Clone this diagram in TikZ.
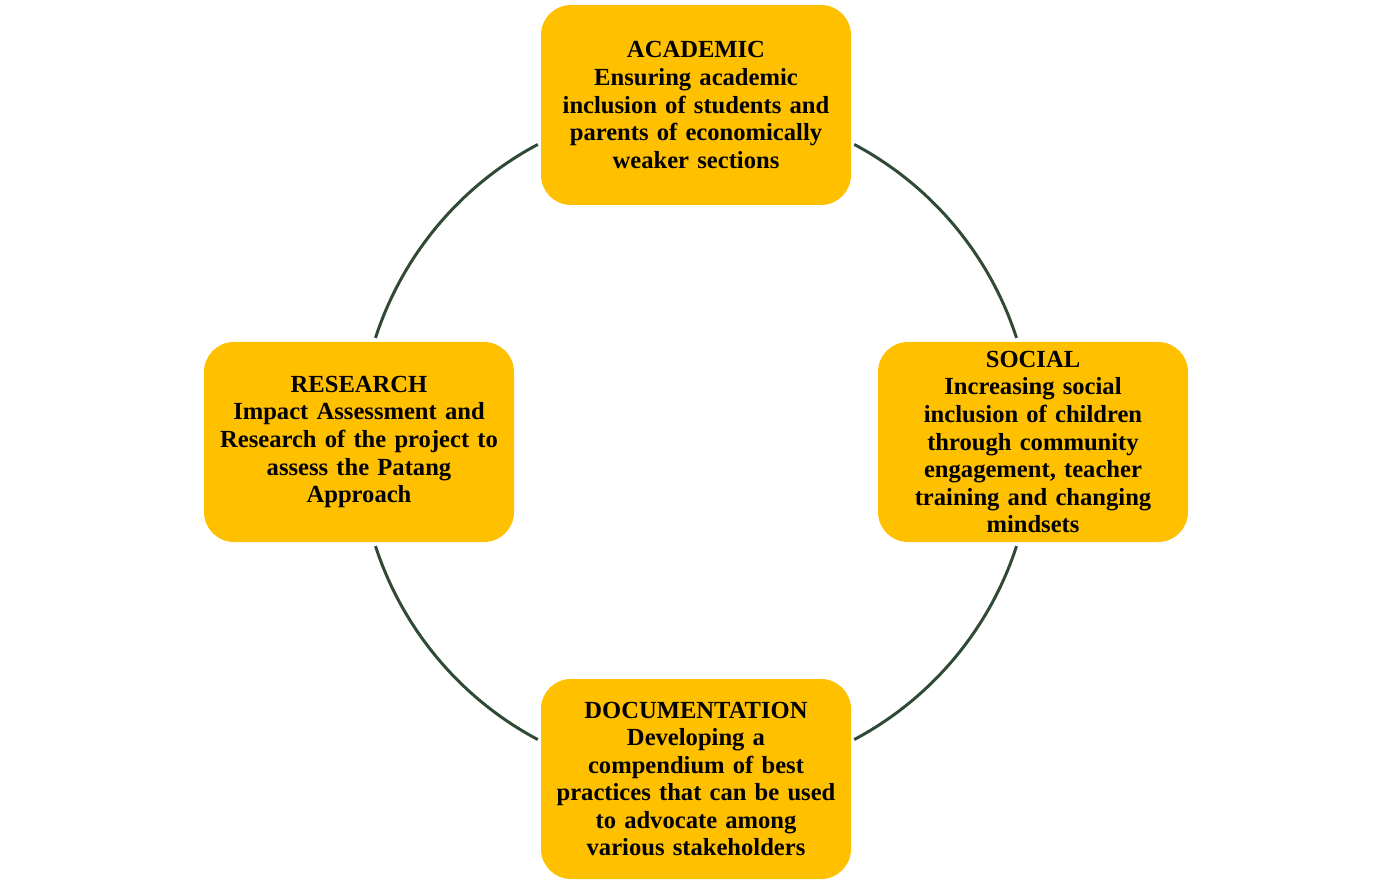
\documentclass[tikz,border=0pt]{standalone}
\usepackage{fontspec}
\setmainfont{Liberation Serif}
\usetikzlibrary{calc}
\definecolor{gold}{RGB}{255,192,0}
\definecolor{pine}{RGB}{47,74,53}
\tikzset{
  pillar/.style={draw=none, fill=gold, rounded corners=0.6cm, minimum width=6.2cm,
    minimum height=4cm, text width=5.9cm, align=center,
    font=\fontsize{14}{15.7}\selectfont\bfseries},
  link/.style={draw=pine, line width=1.7pt}
}

\begin{document}
\begin{tikzpicture}
            \useasboundingbox (0,0) rectangle (27.84,-17.68);
            \coordinate (hub) at (13.92,-8.84);

            % Boxes
            \node[pillar] (acad) at ($(hub)+(90:6.74)$) {ACADEMIC\\Ensuring academic\\inclusion of students and\\parents of economically\\weaker sections};
            \node[pillar] (soc) at ($(hub)+(0:6.74)$) {SOCIAL\\Increasing social\\inclusion of children\\through community\\engagement, teacher\\training and changing\\mindsets};
            \node[pillar] (res) at ($(hub)+(180:6.74)$) {RESEARCH\\Impact Assessment and\\Research of the project to\\assess the Patang\\Approach};
            \node[pillar] (doc) at ($(hub)+(270:6.74)$) {DOCUMENTATION\\Developing a\\compendium of best\\practices that can be used\\to advocate among\\various stakeholders};

            % Arcs
            \draw[link] ($(hub)+(18:6.74)$) arc (18:62:6.74);
            \draw[link] ($(hub)+(118:6.74)$) arc (118:162:6.74);
            \draw[link] ($(hub)+(198:6.74)$) arc (198:242:6.74);
            \draw[link] ($(hub)+(298:6.74)$) arc (298:342:6.74);
        \end{tikzpicture}
\end{document}
